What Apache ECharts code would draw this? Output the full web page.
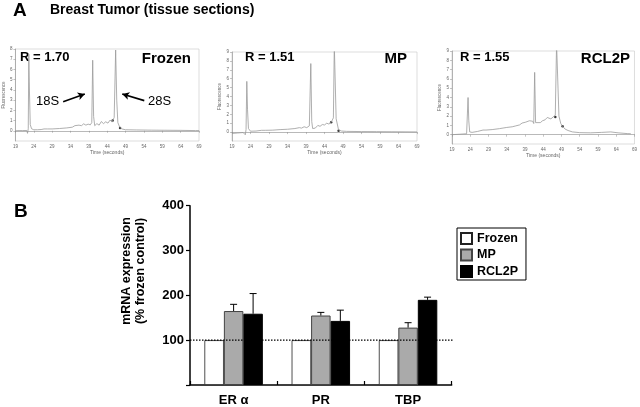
<!DOCTYPE html>
<html>
<head>
<meta charset="utf-8">
<script src="https://cdn.jsdelivr.net/npm/echarts@6/dist/echarts.min.js"></script>
<style>
  html, body { margin: 0; padding: 0; background: #fff; }
  #chart { width: 640px; height: 407px; }
</style>
</head>
<body>
<div id="chart"></div>
<script>
const FONT = '"Liberation Sans", Arial, sans-serif'

// ---- panel A: bioanalyzer traces, [time (s), fluorescence] ----
const frozenTrace = [
  [19, 0.0], [20, 0.02], [21, 0.02], [22.1, 0.03], [22.3, -0.25], [22.5, 0.2], [22.65, 7.5], [22.85, 3.5],
  [23.05, 0.6], [23.4, 0.2], [24, 0.1], [25, 0.1], [26, 0.12], [26.8, 0.18], [27.2, 0.3], [27.7, 0.18],
  [29, 0.18], [31, 0.22], [33, 0.28], [34.5, 0.35], [35.2, 0.5], [35.7, 0.4], [36.3, 0.55], [37, 0.5],
  [37.6, 0.68], [38.2, 0.55], [38.8, 0.65], [39.4, 0.58], [39.8, 0.8], [40.05, 6.9], [40.3, 1.4], [40.6, 0.5],
  [41.2, 0.7], [41.8, 0.55], [42.4, 0.9], [43, 0.7], [43.6, 0.88], [44.2, 0.75], [44.8, 1.05], [45.3, 0.85],
  [45.9, 1.3], [46.3, 7.9], [46.6, 3], [46.9, 0.8], [47.4, 0.35], [48, 0.18], [49, 0.1], [52, 0.08],
  [56, 0.06], [60, 0.05], [64, 0.04], [68, 0.02], [69, 0.02]
]
const mpTrace = [
  [19, -0.15], [20.5, -0.1], [22, -0.05], [22.6, -0.3], [22.8, 0.3], [23.0, 5.7], [23.2, 2.5], [23.45, 0.4],
  [24, 0.1], [25.5, 0.12], [27, 0.2], [27.5, 0.32], [28, 0.2], [30, 0.22], [32, 0.28], [34, 0.32],
  [36, 0.4], [37.2, 0.5], [37.8, 0.45], [38.5, 0.6], [39.2, 0.5], [39.9, 0.7], [40.1, 0.55], [40.3, 7.7],
  [40.55, 1.2], [40.8, 0.4], [41.5, 0.45], [42.2, 0.75], [42.8, 0.65], [43.4, 0.85], [44, 0.8], [44.6, 1.0],
  [45.2, 0.9], [45.8, 1.1], [46.4, 1.6], [46.65, 9.8], [46.9, 9.8], [47.15, 1.5], [47.8, 0.25], [48.6, 0.12],
  [50, 0.08], [54, 0.06], [58, 0.05], [62, 0.04], [66, 0.03], [69, 0.02]
]
const rcl2pTrace = [
  [19, 0.0], [21, 0.05], [23.0, 0.1], [23.2, 0.3], [23.4, 4.0], [23.6, 1.5], [23.85, 0.3], [24.5, 0.25],
  [26, 0.35], [27.5, 0.5], [27.9, 0.68], [28.3, 0.5], [30, 0.55], [32, 0.65], [34, 0.78], [35.5, 0.85],
  [36.5, 0.95], [37.5, 1.05], [38.2, 1.25], [38.6, 1.1], [39.2, 1.35], [39.6, 1.2], [40.2, 1.5], [40.6, 1.3],
  [41.1, 1.45], [41.4, 1.2], [41.65, 6.7], [41.9, 1.3], [42.4, 1.15], [43.2, 1.3], [43.8, 1.5], [44.5, 1.6],
  [45.1, 1.85], [45.6, 1.95], [46.1, 1.7], [46.6, 1.85], [47.3, 2.1], [47.65, 9.8], [47.95, 9.8], [48.3, 2.0],
  [48.8, 1.2], [49.3, 0.9], [50, 0.6], [50.8, 0.45], [52, 0.3], [54, 0.22], [57, 0.2], [60, 0.25],
  [62.5, 0.3], [64.5, 0.2], [67, 0.12], [68, 0.1]
]
// peak start / end markers
const frozenDots = [[45.5, 1.0], [47.5, 0.26]]
const mpDots = [[45.8, 1.1], [47.8, 0.15]]
const rcl2pDots = [[47.3, 1.9], [49.3, 0.9]]

const sampleNames = ['Frozen', 'MP', 'RCL2P']
const rValues = ['R = 1.70', 'R = 1.51', 'R = 1.55']
const fluorMax = [8, 9, 9]
const timeRange = [19, 69]

// 18S / 28S arrows in the frozen trace, [tail, head]
const arrow18S = [[32.0, 2.85], [37.9, 3.6]]
const arrow28S = [[54.1, 2.95], [48.1, 3.6]]

// ---- panel B: mRNA expression (% frozen control) ----
const genes = ['ER α', 'PR', 'TBP']
const frozenVals = [100, 100, 100]
const mpVals = [165, 155, 128]
const rcl2pVals = [159, 143, 190]
const mpErrTop = [180, 162, 139]
const rcl2pErrTop = [204, 167, 196]
const refLevel = 100
const expTicks = [0, 400, 100]

const COLORS = {
  trace: '#9a9a9a',
  traceAxis: '#8a8a8a',
  traceText: '#666',
  frame: '#c8c8c8',
  frozen: '#ffffff',
  mp: '#aaaaaa',
  rcl2p: '#000000',
}

const traceGrids = [
  { left: 14, top: 49, width: 185, height: 92 },
  { left: 232, top: 52, width: 185, height: 89 },
  { left: 452, top: 51, width: 184, height: 93 },
]

function traceXAxis(i) {
  return {
    type: 'value', gridIndex: i, min: timeRange[0], max: timeRange[1], interval: 5,
    name: 'Time (seconds)', nameLocation: 'middle', nameGap: 9,
    nameTextStyle: { fontSize: 5, color: COLORS.traceText, fontFamily: FONT },
    axisLine: { lineStyle: { color: COLORS.traceAxis, width: 0.6 } },
    axisTick: { length: 2, lineStyle: { color: COLORS.traceAxis, width: 0.5 } },
    axisLabel: { fontSize: 4.5, color: COLORS.traceText, margin: 3, fontFamily: FONT },
    splitLine: { show: false },
  }
}

function traceYAxis(i) {
  return {
    type: 'value', gridIndex: i, min: -1, max: fluorMax[i], interval: 1,
    name: 'Fluorescence', nameLocation: 'middle', nameGap: 8,
    nameTextStyle: { fontSize: 4.5, color: COLORS.traceText, fontFamily: FONT },
    axisLine: { show: true, lineStyle: { color: COLORS.traceAxis, width: 0.6 } },
    axisTick: { show: true, length: 2, lineStyle: { color: COLORS.traceAxis, width: 0.5 } },
    axisLabel: { fontSize: 4.5, color: COLORS.traceText, margin: 3, fontFamily: FONT, showMinLabel: false },
    splitLine: { show: false },
  }
}

function traceSeries(i, data, dots) {
  const line = {
    type: 'line', xAxisIndex: i, yAxisIndex: i, data: data,
    showSymbol: false, symbol: 'none', clip: true, silent: true,
    lineStyle: { color: COLORS.trace, width: 0.8 },
  }
  if (i === 0) {
    line.markLine = {
      silent: true, symbol: ['none', 'arrow'], symbolSize: [6, 7],
      label: { show: false },
      lineStyle: { color: '#000', width: 1.6, type: 'solid' },
      data: [
        [{ coord: arrow18S[0] }, { coord: arrow18S[1] }],
        [{ coord: arrow28S[0] }, { coord: arrow28S[1] }],
      ],
    }
  }
  const pts = {
    type: 'scatter', xAxisIndex: i, yAxisIndex: i, data: dots,
    symbolSize: 2.5, itemStyle: { color: '#000' }, silent: true,
  }
  return [line, pts]
}

// whisker above the bar, offset to the bar's slot in the group
function errorBar(slot) {
  return function (params, api) {
    const bandW = api.size([1, 0])[0]
    const barW = bandW * 0.67 / 3
    const lo = api.coord([api.value(0), api.value(1)])
    const hi = api.coord([api.value(0), api.value(2)])
    const x = lo[0] + (slot - 1) * barW
    const cap = 3.5
    return {
      type: 'group',
      children: [
        { type: 'line', shape: { x1: x, y1: lo[1], x2: x, y2: hi[1] }, style: { stroke: '#000', lineWidth: 1 } },
        { type: 'line', shape: { x1: x - cap, y1: hi[1], x2: x + cap, y2: hi[1] }, style: { stroke: '#000', lineWidth: 1 } },
      ],
    }
  }
}

const bold = (size) => ({ fontFamily: FONT, fontWeight: 'bold', fontSize: size, color: '#000' })

const texts = [
  { x: 13, y: 11, text: 'A', font: 'bold 19px ' + FONT },
  { x: 50, y: 10, text: 'Breast Tumor (tissue sections)', font: 'bold 14px ' + FONT },
  { x: 14, y: 212, text: 'B', font: 'bold 19px ' + FONT },
  { x: 20, y: 57, text: rValues[0], font: 'bold 13px ' + FONT },
  { x: 245, y: 57, text: rValues[1], font: 'bold 13px ' + FONT },
  { x: 460, y: 57, text: rValues[2], font: 'bold 13px ' + FONT },
  { x: 191, y: 59, text: sampleNames[0], font: 'bold 15px ' + FONT, align: 'right' },
  { x: 407, y: 59, text: sampleNames[1], font: 'bold 15px ' + FONT, align: 'right' },
  { x: 630, y: 59, text: sampleNames[2], font: 'bold 15px ' + FONT, align: 'right' },
  { x: 36, y: 101, text: '18S', font: '13px ' + FONT },
  { x: 148, y: 101, text: '28S', font: '13px ' + FONT },
]

const chart = echarts.init(document.getElementById('chart'), null, { renderer: 'canvas' })

chart.setOption({
  animation: false,
  backgroundColor: '#fff',
  textStyle: { fontFamily: FONT },
  grid: [
    ...traceGrids.map(g => ({ ...g, show: true, borderColor: COLORS.frame, borderWidth: 0.6, backgroundColor: 'transparent' })),
    { left: 190, top: 205.7, width: 261.7, height: 182.7 },
  ],
  xAxis: [
    traceXAxis(0), traceXAxis(1), traceXAxis(2),
    {
      type: 'category', gridIndex: 3, data: genes, boundaryGap: true,
      axisLine: { lineStyle: { color: '#000', width: 1.5 } },
      axisTick: { show: true, inside: true, length: 4, lineStyle: { color: '#000', width: 1.2 } },
      axisLabel: { ...bold(13), margin: 9 },
    },
    { type: 'value', gridIndex: 3, min: 0, max: 3, show: false },
  ],
  yAxis: [
    traceYAxis(0), traceYAxis(1), traceYAxis(2),
    {
      type: 'value', gridIndex: 3, min: expTicks[0], max: expTicks[1], interval: expTicks[2],
      axisLine: { show: true, lineStyle: { color: '#000', width: 1.5 } },
      axisTick: { show: true, length: 4, lineStyle: { color: '#000', width: 1.2 } },
      axisLabel: { ...bold(13), margin: 6, formatter: v => (v === 0 ? '' : v) },
      splitLine: { show: false },
    },
  ],
  legend: {
    orient: 'vertical', left: 457, top: 228,
    padding: [4, 8, 2, 3], itemGap: 3.5,
    itemWidth: 11, itemHeight: 11,
    borderColor: '#000', borderWidth: 1,
    icon: 'rect',
    textStyle: bold(12.5),
    data: sampleNames,
  },
  series: [
    ...traceSeries(0, frozenTrace, frozenDots),
    ...traceSeries(1, mpTrace, mpDots),
    ...traceSeries(2, rcl2pTrace, rcl2pDots),
    {
      name: sampleNames[0], type: 'bar', xAxisIndex: 3, yAxisIndex: 3, data: frozenVals,
      barGap: '0%', barCategoryGap: '33%',
      itemStyle: { color: COLORS.frozen, borderColor: '#222', borderWidth: 0.8 },
    },
    {
      name: sampleNames[1], type: 'bar', xAxisIndex: 3, yAxisIndex: 3, data: mpVals,
      barGap: '0%', barCategoryGap: '33%',
      itemStyle: { color: COLORS.mp, borderColor: '#444', borderWidth: 1 },
    },
    {
      name: sampleNames[2], type: 'bar', xAxisIndex: 3, yAxisIndex: 3, data: rcl2pVals,
      barGap: '0%', barCategoryGap: '33%',
      itemStyle: { color: COLORS.rcl2p, borderColor: '#000', borderWidth: 1 },
    },
    {
      type: 'custom', xAxisIndex: 3, yAxisIndex: 3, z: 5, silent: true,
      renderItem: errorBar(1),
      data: genes.map((g, i) => [i, mpVals[i], mpErrTop[i]]),
    },
    {
      type: 'custom', xAxisIndex: 3, yAxisIndex: 3, z: 5, silent: true,
      renderItem: errorBar(2),
      data: genes.map((g, i) => [i, rcl2pVals[i], rcl2pErrTop[i]]),
    },
    {
      // dotted 100% reference, runs a little past the last category
      type: 'line', xAxisIndex: 4, yAxisIndex: 3, z: 6, clip: false, silent: true,
      showSymbol: false, symbol: 'none',
      lineStyle: { color: '#000', width: 1.3, type: [1.5, 1.5] },
      data: [[0, refLevel], [3.16, refLevel]],
    },
  ],
  graphic: [
    ...texts.map(t => ({
      type: 'text', x: t.x, y: t.y, silent: true,
      style: { text: t.text, font: t.font, fill: '#000', align: t.align || 'left', verticalAlign: 'middle' },
    })),
    {
      type: 'text', x: 133.5, y: 271, rotation: Math.PI / 2, silent: true,
      style: {
        text: 'mRNA expression\n(% frozen control)', font: 'bold 12.5px ' + FONT,
        fill: '#000', align: 'center', verticalAlign: 'middle', lineHeight: 14,
      },
    },
  ],
})
</script>
</body>
</html>
